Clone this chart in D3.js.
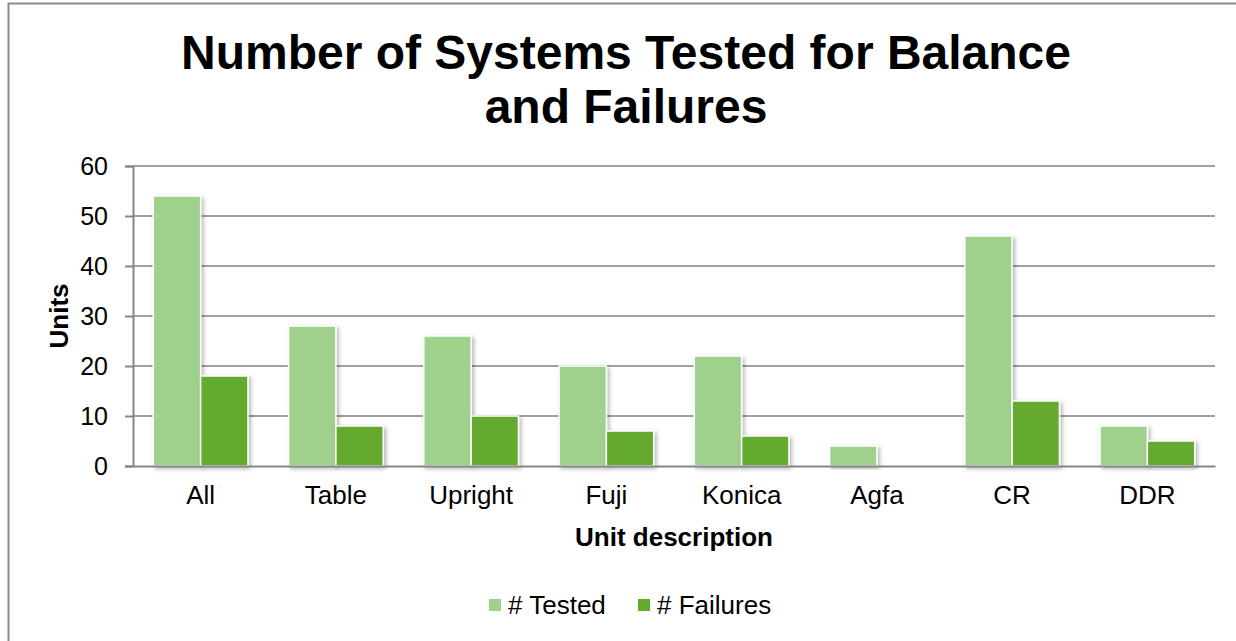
<!DOCTYPE html>
<html lang="en">

<head>
    <meta charset="UTF-8">
    <title>Number of Systems Tested for Balance and Failures</title>
    <style>
        body { margin: 0; background: #fff; }
        text { font-family: "Liberation Sans", Arial, sans-serif; }
    </style>
</head>

<body>
    <script src="https://cdn.jsdelivr.net/npm/d3@7"></script>
    <script>
        // data
        const categories = ['All', 'Table', 'Upright', 'Fuji', 'Konica', 'Agfa', 'CR', 'DDR'];
        const tested = [54, 28, 26, 20, 22, 4, 46, 8];
        const failures = [18, 8, 10, 7, 6, 0, 13, 5];
        const seriesNames = ['# Tested', '# Failures'];
        const yTicks = [0, 10, 20, 30, 40, 50, 60];

        const colors = ['#a0d18c', '#63aa2f'];
        const w = 1236;
        const h = 641;
        const margin = { left: 133, right: 21, top: 166, bottom: 175 }; // plot 133..1215, 166..466

        const svg = d3.select('body')
            .append('svg')
            .attr('width', w)
            .attr('height', h)

        // soft shadow like the office chart bars
        const defs = svg.append('defs');
        const f = defs.append('filter').attr('id', 'shadow')
            .attr('x', '-20%').attr('y', '-20%').attr('width', '140%').attr('height', '140%');
        f.append('feDropShadow')
            .attr('dx', 2).attr('dy', 2).attr('stdDeviation', 2)
            .attr('flood-color', '#000').attr('flood-opacity', 0.3);

        // frame
        svg.append('rect')
            .attr('x', 8.5).attr('y', 3.5)
            .attr('width', 1240).attr('height', 660)
            .attr('fill', 'none')
            .attr('stroke', '#8c8c8c')
            .attr('stroke-width', 2);

        const x0 = d3.scaleBand()
            .domain(categories)
            .range([margin.left, w - margin.right])
            .paddingInner(0.3)
            .paddingOuter(0.15);

        const x1 = d3.scaleBand()
            .domain(seriesNames)
            .range([0, x0.bandwidth()]);

        const yScale = d3.scaleLinear()
            .domain([0, 60])
            .range([h - margin.bottom, margin.top]);

        // gridlines
        svg.append('g')
            .selectAll('line')
            .data(yTicks.filter(d => d > 0))
            .enter()
            .append('line')
            .attr('x1', margin.left)
            .attr('x2', w - margin.right)
            .attr('y1', d => yScale(d))
            .attr('y2', d => yScale(d))
            .attr('stroke', '#a0a0a0')
            .attr('stroke-width', 2);

        // y axis
        const yAxis = svg.append('g')
            .attr('transform', `translate(${margin.left},0)`)
            .call(d3.axisLeft(yScale).tickValues(yTicks).tickSize(8).tickPadding(17));
        yAxis.select('.domain').attr('stroke', '#868686').attr('stroke-width', 2);
        yAxis.selectAll('.tick line').attr('stroke', '#868686').attr('stroke-width', 2);
        yAxis.selectAll('.tick text')
            .attr('font-size', '25px')
            .attr('font-family', '"Liberation Sans", Arial, sans-serif')
            .attr('fill', '#000');

        // bars
        const rows = categories.map((c, i) => ({ cat: c, values: [tested[i], failures[i]] }));
        const groups = svg.append('g')
            .selectAll('g')
            .data(rows)
            .enter()
            .append('g')
            .attr('transform', d => `translate(${x0(d.cat)},0)`);

        groups.selectAll('rect')
            .data(d => d.values.map((v, j) => ({ key: seriesNames[j], v: v, j: j })))
            .enter()
            .filter(d => d.v > 0)
            .append('rect')
            .attr('x', d => x1(d.key))
            .attr('y', d => yScale(d.v))
            .attr('width', x1.bandwidth())
            .attr('height', d => yScale(0) - yScale(d.v))
            .attr('fill', d => colors[d.j])
            .attr('stroke', '#fff')
            .attr('stroke-width', 1.5)
            .attr('filter', 'url(#shadow)');

        // x axis
        const xAxis = svg.append('g')
            .attr('transform', `translate(0,${yScale(0)})`)
            .call(d3.axisBottom(x0).tickSize(0).tickPadding(20));
        xAxis.select('.domain').attr('stroke', '#868686').attr('stroke-width', 2);
        xAxis.selectAll('.tick text')
            .attr('font-size', '26px')
            .attr('font-family', '"Liberation Sans", Arial, sans-serif')
            .attr('fill', '#000');

        // titles
        const title = svg.append('text')
            .attr('text-anchor', 'middle')
            .attr('font-size', '48px')
            .attr('font-weight', 'bold');
        title.append('tspan').attr('x', 626).attr('y', 69).text('Number of Systems Tested for Balance');
        title.append('tspan').attr('x', 626).attr('y', 123).text('and Failures');

        svg.append('text')
            .attr('x', (margin.left + w - margin.right) / 2)
            .attr('y', 546)
            .attr('text-anchor', 'middle')
            .attr('font-size', '26px')
            .attr('font-weight', 'bold')
            .text('Unit description');

        svg.append('text')
            .attr('transform', `translate(68,${(yScale(0) + yScale(60)) / 2}) rotate(-90)`)
            .attr('text-anchor', 'middle')
            .attr('font-size', '26px')
            .attr('font-weight', 'bold')
            .text('Units');

        // legend
        const legendX = [489, 638];
        const legend = svg.append('g')
            .selectAll('g')
            .data(seriesNames)
            .enter()
            .append('g')
            .attr('transform', (d, i) => `translate(${legendX[i]},599)`);
        legend.append('rect')
            .attr('width', 12).attr('height', 12)
            .attr('fill', (d, i) => colors[i]);
        legend.append('text')
            .attr('x', 19)
            .attr('y', 15)
            .attr('font-size', '26px')
            .text(d => d);
    </script>
</body>

</html>
